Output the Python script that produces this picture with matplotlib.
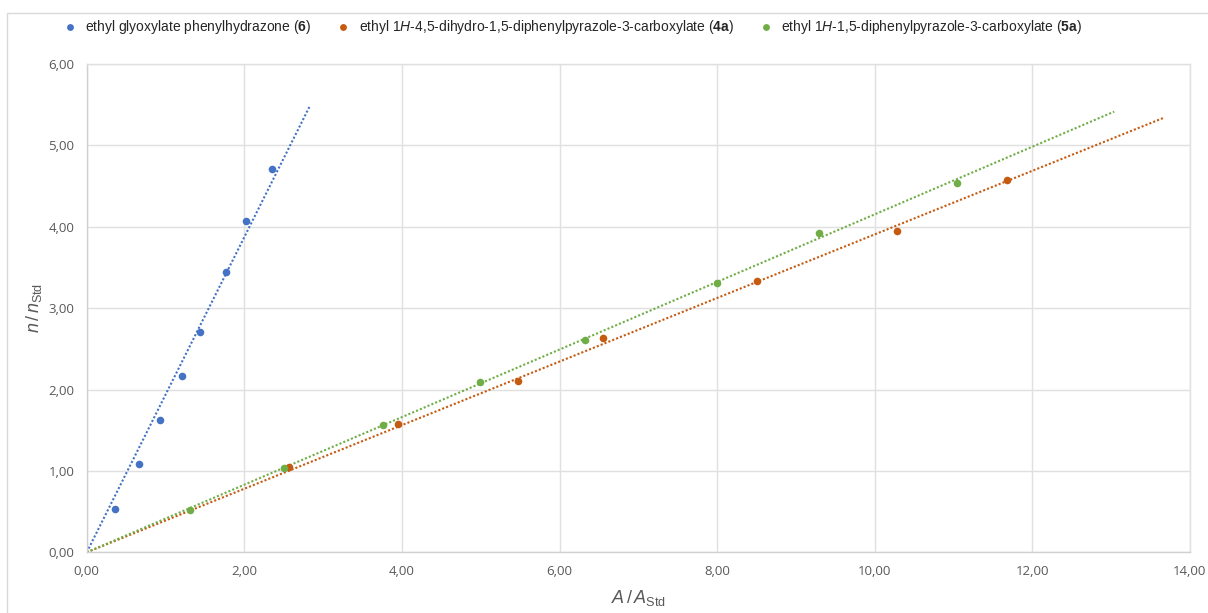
import matplotlib
matplotlib.use("Agg")
import matplotlib.pyplot as plt
import matplotlib.patches as mpatches
from matplotlib.ticker import FuncFormatter, MultipleLocator
import numpy as np

plt.rcParams["font.family"] = ["Liberation Sans", "DejaVu Sans"]
plt.rcParams["mathtext.fontset"] = "custom"
plt.rcParams["mathtext.rm"] = "Liberation Sans"
plt.rcParams["mathtext.it"] = "Liberation Sans:italic"
plt.rcParams["mathtext.bf"] = "Liberation Sans:bold"

# calibration points: A/A_Std vs n/n_Std
x_6 = [0.36, 0.66, 0.934, 1.205, 1.44, 1.768, 2.025, 2.355]
y_6 = [0.536, 1.08, 1.625, 2.166, 2.71, 3.44, 4.07, 4.71]

x_4a = [2.571, 3.955, 5.473, 6.556, 8.51, 10.28, 11.68]
y_4a = [1.044, 1.572, 2.104, 2.633, 3.333, 3.951, 4.57]

x_5a = [1.307, 2.50, 3.756, 4.995, 6.324, 7.995, 9.293, 11.04]
y_5a = [0.52, 1.04, 1.564, 2.088, 2.612, 3.312, 3.926, 4.537]

labels = [
    r"ethyl glyoxylate phenylhydrazone ($\mathbf{6}$)",
    r"ethyl 1$\mathit{H}$-4,5-dihydro-1,5-diphenylpyrazole-3-carboxylate ($\mathbf{4a}$)",
    r"ethyl 1$\mathit{H}$-1,5-diphenylpyrazole-3-carboxylate ($\mathbf{5a}$)",
]
colors = ["#4472C4", "#C55A11", "#70AD47"]
# forward forecast of each trendline beyond the last point
forecast = [0.48, 2.0, 2.0]

fig = plt.figure(figsize=(12.08, 6.13), dpi=100)
ax = fig.add_axes([0.0718, 0.099, 0.9132, 0.7966])

series = [(x_6, y_6), (x_4a, y_4a), (x_5a, y_5a)]
for (xs, ys), lab, col, fc in zip(series, labels, colors, forecast):
    xs = np.array(xs)
    ys = np.array(ys)
    # linear trendline forced through the origin
    k = np.sum(xs * ys) / np.sum(xs * xs)
    xt = np.array([0.0, xs.max() + fc])
    ax.plot(xt, k * xt, color=col, lw=1.5, linestyle=(0, (1, 1)), zorder=2)
    ax.scatter(xs, ys, s=30, color=col, label=lab, zorder=3, linewidths=0)

ax.set_xlim(0, 14)
ax.set_ylim(0, 6)
ax.xaxis.set_major_locator(MultipleLocator(2))
ax.yaxis.set_major_locator(MultipleLocator(1))
fmt = FuncFormatter(lambda v, p: f"{v:.2f}".replace(".", ","))
ax.xaxis.set_major_formatter(fmt)
ax.yaxis.set_major_formatter(fmt)
ax.grid(True, color="#e0e0e0", lw=1)
ax.set_axisbelow(True)
for sp in ax.spines.values():
    sp.set_color("#e0e0e0")
    sp.set_linewidth(1)
ax.spines["left"].set_color("#d0d0d0")
ax.spines["bottom"].set_color("#d0d0d0")
ax.tick_params(length=0, labelsize=9.5, labelcolor="#595959", pad=9)
for t in ax.get_xticklabels() + ax.get_yticklabels():
    t.set_fontfamily(["Open Sans", "DejaVu Sans"])

ax.set_xlabel(r"$A\,/\,A_{\mathrm{Std}}$", fontsize=13, color="#595959", labelpad=7)
ax.set_ylabel(r"$n\,/\,n_{\mathrm{Std}}$", fontsize=13, color="#595959", labelpad=3)

leg = fig.legend(loc="center", bbox_to_anchor=(0.474, 0.956), ncol=3, frameon=False,
                 fontsize=10, handletextpad=0.6, columnspacing=1.8, markerscale=0.9,
                 handlelength=1.0)
for t in leg.get_texts():
    t.set_color("#262626")

# chart area outline
fig.patches.append(mpatches.Rectangle((7 / 1208, -0.1), 1.2, 1 - 13 / 613 + 0.1,
                                      transform=fig.transFigure, fill=False,
                                      edgecolor="#d9d9d9", lw=1))

fig.savefig("out.png", dpi=100)
